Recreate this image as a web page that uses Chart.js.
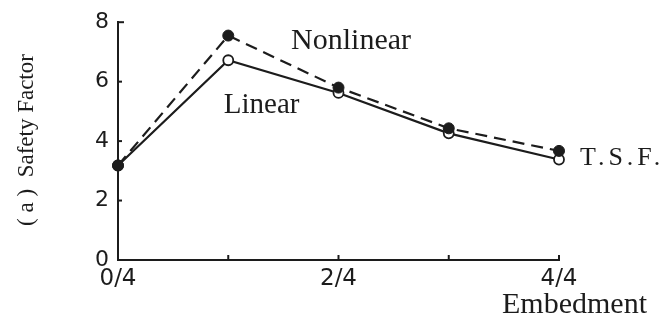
<!DOCTYPE html>
<html>
<head>
<meta charset="utf-8">
<script src="https://cdn.jsdelivr.net/npm/chart.js@4"></script>
<style>
  body { margin: 0; background: #fff; }
  canvas { display: block; }
</style>
</head>
<body>
<canvas id="sfChart" width="670" height="322"></canvas>
<script>
// embedment in quarters (0/4 .. 4/4)
const embedment = [0, 1, 2, 3, 4];
const xTickLabels = ['0/4', '', '2/4', '', '4/4'];
const yTickValues = [0, 2, 4, 6, 8];

// safety factor
const linearSF = [3.18, 6.72, 5.62, 4.26, 3.38];
const nonlinearSF = [3.18, 7.55, 5.80, 4.43, 3.67];

const ink = '#1c1c1c';

function toPoints(ys) {
    return embedment.map((x, i) => ({ x: x, y: ys[i] }));
}

// small inward ticks + the text labels
const annotate = {
    id: 'annotate',
    afterDraw(chart) {
        const ctx = chart.ctx;
        const xs = chart.scales.x;
        const ys = chart.scales.y;
        const left = chart.chartArea.left;
        const bottom = chart.chartArea.bottom;

        ctx.save();
        ctx.strokeStyle = ink;
        ctx.lineWidth = 2;
        yTickValues.forEach(v => {
            if (v === 0) return;
            const py = ys.getPixelForValue(v);
            ctx.beginPath();
            ctx.moveTo(left, py);
            ctx.lineTo(left + (v === 8 ? 6 : 4), py);
            ctx.stroke();
        });
        embedment.forEach(v => {
            if (v === 0) return;
            const px = xs.getPixelForValue(v);
            ctx.beginPath();
            ctx.moveTo(px, bottom);
            ctx.lineTo(px, bottom - 5);
            ctx.stroke();
        });

        ctx.fillStyle = ink;
        ctx.textBaseline = 'alphabetic';
        ctx.textAlign = 'left';
        ctx.font = '30px "Liberation Serif"';
        ctx.fillText('Nonlinear', xs.getPixelForValue(1.57), ys.getPixelForValue(7.11));
        ctx.font = '29px "Liberation Serif"';
        ctx.fillText('Linear', xs.getPixelForValue(0.96), ys.getPixelForValue(4.95));
        ctx.font = '26px "Liberation Serif"';
        ctx.letterSpacing = '4px';
        ctx.fillText('T.S.F.', xs.getPixelForValue(4.19), ys.getPixelForValue(3.18));
        ctx.letterSpacing = '0px';
        ctx.font = '30px "Liberation Serif"';
        ctx.textAlign = 'right';
        ctx.fillText('Embedment', 647, 313);

        ctx.translate(27, 140);
        ctx.rotate(-Math.PI / 2);
        ctx.textAlign = 'center';
        ctx.textBaseline = 'middle';
        ctx.font = '23px "Liberation Serif"';
        ctx.fillText('( a )  Safety Factor', 0, 0);
        ctx.restore();
    }
};

new Chart(document.getElementById('sfChart'), {
    type: 'line',
    data: {
        datasets: [
            {
                label: 'Nonlinear',
                data: toPoints(nonlinearSF),
                borderColor: ink,
                borderWidth: 2.2,
                borderDash: [12, 7],
                pointRadius: 5.5,
                pointBackgroundColor: ink,
                pointBorderColor: ink,
                pointBorderWidth: 1,
                tension: 0,
                clip: false
            },
            {
                label: 'Linear',
                data: toPoints(linearSF),
                borderColor: ink,
                borderWidth: 2.2,
                pointRadius: 5,
                pointBackgroundColor: '#fff',
                pointBorderColor: ink,
                pointBorderWidth: 1.8,
                tension: 0,
                clip: false
            }
        ]
    },
    options: {
        responsive: false,
        animation: false,
        layout: { padding: { top: 16, right: 111, left: 0, bottom: 0 } },
        plugins: {
            legend: { display: false },
            tooltip: { enabled: false }
        },
        scales: {
            x: {
                type: 'linear',
                min: 0,
                max: 4,
                afterFit: scale => { scale.height = 62; },
                grid: { display: true, drawOnChartArea: false, drawTicks: false },
                border: { display: true, color: ink, width: 2 },
                ticks: {
                    stepSize: 1,
                    padding: 5,
                    color: ink,
                    font: { family: '"DejaVu Sans"', size: 23 },
                    callback: value => xTickLabels[value]
                }
            },
            y: {
                min: 0,
                max: 8,
                afterFit: scale => { scale.width = 118; },
                grid: { display: true, drawOnChartArea: false, drawTicks: false },
                border: { display: true, color: ink, width: 2 },
                ticks: {
                    stepSize: 2,
                    padding: 9,
                    color: ink,
                    font: { family: '"DejaVu Sans"', size: 22 }
                }
            }
        }
    },
    plugins: [annotate]
});
</script>
</body>
</html>
